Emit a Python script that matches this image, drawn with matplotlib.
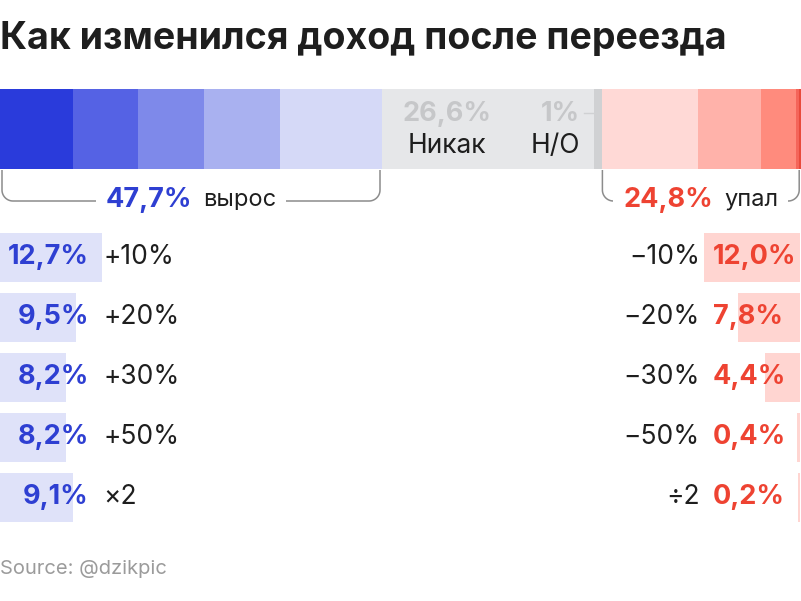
import numpy as np
import matplotlib
matplotlib.use("Agg")
import matplotlib.pyplot as plt
from matplotlib.patches import Rectangle

plt.rcParams['font.family'] = ['Inter', 'DejaVu Sans']

# data
up_labels = ['+10%', '+20%', '+30%', '+50%', '×2']
up_vals = [12.7, 9.5, 8.2, 8.2, 9.1]
down_labels = ['−10%', '−20%', '−30%', '−50%', '÷2']
down_vals = [12.0, 7.8, 4.4, 0.4, 0.2]
none_val = 26.6
na_val = 1.0
up_total = 47.7
down_total = 24.8

up_colors = ['#d5d9f7', '#a9b1f0', '#7e89ea', '#5562e4', '#2a3bdb']  # +10 .. x2
down_colors = ['#ffd9d6', '#ffb2aa', '#ff8b7d', '#f5655a', '#e84a3c']
blue = '#2e3fd2'
red = '#ee4332'
dark = '#1e1e1e'

fig = plt.figure(figsize=(8.01, 6.01), dpi=100)
ax = fig.add_axes([0, 0, 1, 1])
ax.set_xlim(0, 100 * 801 / 800)
ax.set_ylim(601, 0)
ax.axis('off')

px = 100 / 800  # one pixel in percent units


def fmt(v):
    return f'{v:.1f}%'.replace('.', ',')


# top stacked bar
bar_y, bar_h = 129, 80
left = 0
for v, c in zip(up_vals[::-1], up_colors[::-1]):
    ax.barh(bar_y, v, left=left, height=bar_h, color=c, edgecolor='none')
    left += v
up_end = left
ax.barh(bar_y, none_val, left=left, height=bar_h, color='#e6e7e9', edgecolor='none')
left += none_val
ax.barh(bar_y, na_val, left=left, height=bar_h, color='#d0d1d3', edgecolor='none')
na_left = left
left += na_val
down_start = left
for v, c in zip(down_vals, down_colors):
    ax.barh(bar_y, v, left=left, height=bar_h, color=c, edgecolor='none')
    left += v
down_end = left

# labels inside grey
nx = up_end + 65 * px
ax.text(nx, 114, fmt(none_val), ha='center', va='center',
        fontsize=19.5, fontweight='bold', color='#c6c7c9')
ax.text(nx, 146, 'Никак', ha='center', va='center', fontsize=19, color=dark)
ax.text(na_left - 14 * px, 114, f'{na_val:g}%', ha='right', va='center',
        fontsize=19.5, fontweight='bold', color='#c6c7c9')
ax.text(na_left - 14 * px, 146, 'Н/О', ha='right', va='center', fontsize=19, color=dark)
ax.plot([na_left - 10 * px, na_left], [113, 113], color='#d0d1d3', lw=1)


def bracket(x0, x1, pct, word, color):
    r = 11
    yt, yb = 170, 201
    th = np.linspace(0, np.pi / 2, 20)
    xs_l = x0 + (r - r * np.cos(th)) * px
    ys_l = yb - r + r * np.sin(th)
    xs_r = x1 - (r - r * np.cos(th[::-1])) * px
    ys_r = yb - r + r * np.sin(th[::-1])
    xs = np.concatenate([[x0], xs_l, xs_r, [x1]])
    ys = np.concatenate([[yt], ys_l, ys_r, [yt]])
    ax.plot(xs, ys, color='#8c8c8c', lw=1.1, solid_capstyle='butt')
    mid = (x0 + x1) / 2
    t1 = ax.text(mid, yb - 1, pct, ha='left', va='center', fontsize=19.5,
                 fontweight='bold', color=color)
    t2 = ax.text(mid, yb - 1, word, ha='left', va='center', fontsize=17, color=dark)
    fig.canvas.draw()
    r_ = fig.canvas.get_renderer()
    w1 = t1.get_window_extent(r_).width * px
    w2 = t2.get_window_extent(r_).width * px
    gap = 11 * px
    total = w1 + gap + w2
    start = mid - total / 2
    t1.set_x(start)
    t2.set_x(start + w1 + gap)
    ax.add_patch(Rectangle((start - 10 * px, yb - 12), total + 20 * px, 24,
                           facecolor='white', edgecolor='none', zorder=2))
    t1.set_zorder(3)
    t2.set_zorder(3)


bracket(0.25, up_end - 0.2, fmt(up_total), 'вырос', blue)
bracket(down_start, down_end - 0.2, fmt(down_total), 'упал', red)

# rows
row_y0, row_step, row_h = 257.5, 60, 49
for i, (lab, v) in enumerate(zip(up_labels, up_vals)):
    y = row_y0 + i * row_step
    ax.barh(y, v, left=0, height=row_h, color='#dfe2f9', edgecolor='none')
    ax.text(89 * px, y, fmt(v), ha='right', va='center',
            fontsize=19.5, fontweight='bold', color=blue)
    ax.text(103 * px, y, lab, ha='left', va='center', fontsize=19, color=dark)

for i, (lab, v) in enumerate(zip(down_labels, down_vals)):
    y = row_y0 + i * row_step
    ax.barh(y, v, left=100 - v, height=row_h, color='#ffd5d1', edgecolor='none')
    ax.text(713 * px, y, fmt(v), ha='left', va='center',
            fontsize=19.5, fontweight='bold', color=red)
    ax.text(700 * px, y, lab, ha='right', va='center', fontsize=19, color=dark)

fig.text(0, 1 - 39 / 601, 'Как изменился доход после переезда', ha='left', va='center',
         fontsize=27, fontweight='bold', color=dark)
fig.text(0, 1 - 569 / 601, 'Source: @dzikpic', ha='left', va='center',
         fontsize=14.5, color='#9b9b9b')

fig.savefig('out.png', dpi=100)
